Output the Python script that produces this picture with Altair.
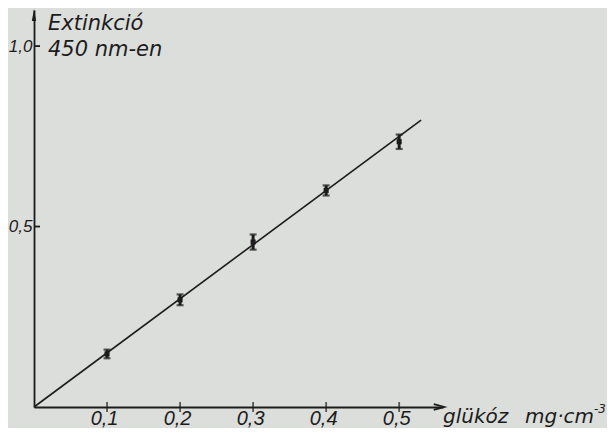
import altair as alt
import pandas as pd

# values
glucose = [0.1, 0.2, 0.3, 0.4, 0.5]
extinction = [0.147, 0.297, 0.457, 0.600, 0.735]
error = [0.012, 0.015, 0.021, 0.014, 0.02]
fit_x = [0.0, 0.53]
fit_y = [0.0, 0.795]
x_tick_values = [0.1, 0.2, 0.3, 0.4, 0.5]
y_tick_values = [0.5, 1.0]
y_title_lines = ["Extinkció", "450 nm-en"]
x_title_parts = ["glükóz", "mg·cm", "-3"]

INK = "#1c1c1c"
BG = "#dcdedb"
FONT = "DejaVu Sans"
LFONT = "Liberation Sans"
W, H = 409, 397

pts = pd.DataFrame({"x": glucose, "y": extinction, "e": error})
pts["lo"] = pts["y"] - pts["e"]
pts["hi"] = pts["y"] + pts["e"]
fit = pd.DataFrame({"x": fit_x, "y": fit_y})
xt = pd.DataFrame({"x": x_tick_values, "y": [0.0] * len(x_tick_values)})
yt = pd.DataFrame({"y": y_tick_values})

xs = alt.Scale(domain=[0, 0.56], nice=False, zero=True)
ys = alt.Scale(domain=[0, 1.1], nice=False, zero=True)
lab = "replace(format(datum.value, '.1f'), '.', ',')"
common = dict(labelExpr=lab, title=None, grid=False, ticks=False,
              domainColor=INK, domainWidth=1.8, labelFont=LFONT,
              labelFontStyle="italic", labelColor=INK)
xaxis = alt.Axis(values=x_tick_values, labelPadding=1, labelFontSize=20,
                 labelOffset=-3, **common)
yaxis = alt.Axis(values=y_tick_values, labelPadding=2, labelFontSize=17,
                 **common)

X = lambda f="x": alt.X(f"{f}:Q", scale=xs, axis=xaxis)
Y = lambda f="y": alt.Y(f"{f}:Q", scale=ys, axis=yaxis)

line = alt.Chart(fit).mark_line(color=INK, strokeWidth=1.6).encode(x=X(), y=Y())
bars = alt.Chart(pts).mark_rule(color=INK, strokeWidth=3).encode(
    x=X(), y=Y("lo"), y2="hi:Q")
cap_lo = alt.Chart(pts).mark_tick(color=INK, orient="horizontal", size=7,
                                  thickness=2.2).encode(x=X(), y=Y("lo"))
cap_hi = alt.Chart(pts).mark_tick(color=INK, orient="horizontal", size=7,
                                  thickness=2.2).encode(x=X(), y=Y("hi"))
dots = alt.Chart(pts).mark_point(shape="square", filled=True, color=INK,
                                 size=26, opacity=1).encode(x=X(), y=Y())
xticks = alt.Chart(xt).mark_tick(color=INK, orient="vertical", size=10,
                                 thickness=1.8).encode(x=X(), y=Y())
yticks = alt.Chart(yt).mark_rule(color=INK, strokeWidth=1.8).encode(
    x=alt.value(0), x2=alt.value(6), y=Y())

one = pd.DataFrame({"a": [0]})
arrow_y = alt.Chart(one).mark_point(
    shape="M-0.35,1L0,-1L0.35,1Z", filled=True, color=INK, size=150, opacity=1
).encode(x=alt.value(0), y=alt.value(5))
arrow_x = alt.Chart(one).mark_point(
    shape="M-1,-0.55L1,0L-1,0.55", filled=False, color=INK, size=110,
    strokeWidth=1.8, opacity=1
).encode(x=alt.value(W - 4), y=alt.value(H))


def txt(s, px, py, size=21):
    return alt.Chart(one).mark_text(
        font=FONT, fontStyle="italic", fontSize=size, color=INK,
        align="left", baseline="alphabetic"
    ).encode(x=alt.value(px), y=alt.value(py), text=alt.value(s))


texts = [
    txt(y_title_lines[0], 14, 20),
    txt(y_title_lines[1], 14, 46),
    txt(x_title_parts[0], 409, 413, 20),
    txt(x_title_parts[1], 491, 413, 20),
    txt(x_title_parts[2], 560, 403, 12),
]

chart = alt.layer(line, bars, cap_lo, cap_hi, dots, xticks, yticks,
                  arrow_y, arrow_x, *texts).properties(
    width=W, height=H,
    autosize=alt.AutoSizeParams(type="none"),
    padding={"left": 26, "top": 2, "right": 164, "bottom": 21},
).configure(background=BG).configure_view(stroke=None)

chart.save("out.html", embed_options={"renderer": "svg", "actions": False})
